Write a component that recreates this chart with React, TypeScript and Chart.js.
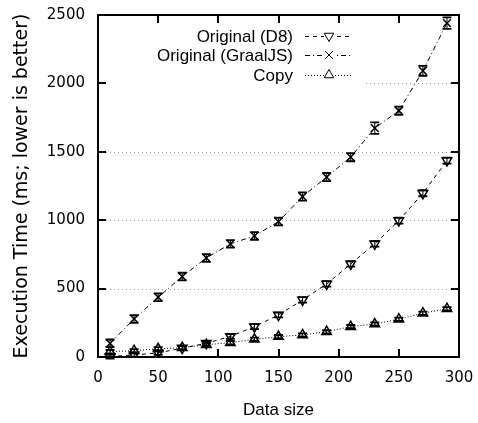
import React, { useEffect, useRef } from "react";
import { Chart, registerables } from "chart.js";

Chart.register(...registerables);

const dataSizes = [10, 30, 50, 70, 90, 110, 130, 150, 170, 190, 210, 230, 250, 270, 290];
const d8Times = [3, 15, 30, 65, 100, 150, 222, 307, 417, 534, 680, 827, 997, 1197, 1436];
const d8Errors = [14, 14, 14, 14, 16, 18, 18, 18, 20, 20, 20, 20, 22, 22, 22];
const graalTimes = [100, 278, 437, 588, 724, 827, 885, 990, 1173, 1315, 1461, 1673, 1800, 2092, 2441];
const graalErrors = [28, 28, 28, 28, 28, 28, 28, 28, 30, 30, 30, 42, 30, 36, 42];
const copyTimes = [39, 46, 60, 68, 90, 105, 129, 149, 161, 185, 222, 241, 276, 320, 353];
const copyErrors = [12, 12, 12, 12, 12, 12, 12, 12, 12, 12, 12, 12, 12, 12, 12];
const seriesLabels = ["Original (D8)", "Original (GraalJS)", "Copy"];
const xTickValues = [0, 50, 100, 150, 200, 250, 300];
const yTickValues = [0, 500, 1000, 1500, 2000, 2500];
const yGridValues = [500, 1000, 1500, 2000];

const dashes = [[4, 4], [5, 3, 1, 3], [1, 2]];
const pointStyles = ["triangle", "crossRot", "triangle"];
const rotations = [180, 0, 0];
const errorsList = [d8Errors, graalErrors, copyErrors];

function toPoints(vals: number[]) {
  return dataSizes.map((x, i) => ({ x, y: vals[i] }));
}

function drawMarker(ctx: CanvasRenderingContext2D, style: string, rot: number, x: number, y: number) {
  const r = 5.5;
  ctx.beginPath();
  if (style === "triangle") {
    let rad = (rot * Math.PI) / 180;
    ctx.moveTo(x + Math.sin(rad) * r, y - Math.cos(rad) * r);
    rad += (2 * Math.PI) / 3;
    ctx.lineTo(x + Math.sin(rad) * r, y - Math.cos(rad) * r);
    rad += (2 * Math.PI) / 3;
    ctx.lineTo(x + Math.sin(rad) * r, y - Math.cos(rad) * r);
    ctx.closePath();
  } else {
    const o = r * Math.SQRT1_2;
    ctx.moveTo(x - o, y - o);
    ctx.lineTo(x + o, y + o);
    ctx.moveTo(x - o, y + o);
    ctx.lineTo(x + o, y - o);
  }
  ctx.stroke();
}

const framePlugin = {
  id: "framePlugin",
  beforeDatasetsDraw(chart: any) {
    const { ctx, chartArea } = chart;
    const ys = chart.scales.y;
    ctx.save();
    ctx.strokeStyle = "#9a9a9a";
    ctx.lineWidth = 1;
    ctx.setLineDash([1, 3]);
    yGridValues.forEach((v) => {
      const py = Math.round(ys.getPixelForValue(v)) + 0.5;
      ctx.beginPath();
      ctx.moveTo(chartArea.left, py);
      ctx.lineTo(chartArea.right, py);
      ctx.stroke();
    });
    ctx.setLineDash([]);
    ctx.fillStyle = "#fff";
    ctx.fillRect(chartArea.left + 1, chartArea.top + 1, 265, 74);
    const rowY = [36, 55, 75];
    const textRight = 293;
    const lineStart = 305;
    const lineEnd = 353;
    ctx.font = "17px 'Liberation Sans', Arial, sans-serif";
    ctx.textAlign = "right";
    ctx.textBaseline = "middle";
    seriesLabels.forEach((lab, i) => {
      const y = rowY[i];
      ctx.fillStyle = "#000";
      ctx.fillText(lab, textRight, y + 1);
      ctx.strokeStyle = "#000";
      ctx.lineWidth = 1;
      ctx.setLineDash(dashes[i]);
      ctx.beginPath();
      ctx.moveTo(lineStart, y + 0.5);
      ctx.lineTo(lineEnd, y + 0.5);
      ctx.stroke();
      ctx.setLineDash([]);
      const mx = (lineStart + lineEnd) / 2;
      ctx.fillStyle = "#fff";
      ctx.fillRect(mx - 5, y - 5, 10, 10);
      ctx.strokeStyle = "#000";
      ctx.lineWidth = 1;
      drawMarker(ctx, pointStyles[i], rotations[i], mx, y);
    });
    ctx.restore();
  },
  afterDatasetsDraw(chart: any) {
    const { ctx, chartArea } = chart;
    const xs = chart.scales.x;
    const ys = chart.scales.y;
    ctx.save();
    ctx.strokeStyle = "#000";
    chart.data.datasets.forEach((ds: any, di: number) => {
      const meta = chart.getDatasetMeta(di);
      const errs = errorsList[di];
      meta.data.forEach((pt: any, i: number) => {
        const v = ds.data[i].y;
        const yTop = ys.getPixelForValue(v + errs[i]);
        const yBot = ys.getPixelForValue(v - errs[i]);
        ctx.lineWidth = 1;
        ctx.beginPath();
        ctx.moveTo(pt.x, yTop);
        ctx.lineTo(pt.x, yBot);
        ctx.stroke();
        ctx.lineWidth = 1.8;
        ctx.beginPath();
        ctx.moveTo(pt.x - 4.5, yTop);
        ctx.lineTo(pt.x + 4.5, yTop);
        ctx.moveTo(pt.x - 4.5, yBot);
        ctx.lineTo(pt.x + 4.5, yBot);
        ctx.stroke();
      });
    });
    ctx.lineWidth = 2;
    ctx.strokeStyle = "#000";
    ctx.strokeRect(chartArea.left, chartArea.top, chartArea.right - chartArea.left, chartArea.bottom - chartArea.top);
    const tl = 8;
    ctx.beginPath();
    xTickValues.forEach((v) => {
      const px = Math.round(xs.getPixelForValue(v));
      ctx.moveTo(px, chartArea.bottom);
      ctx.lineTo(px, chartArea.bottom - tl);
      ctx.moveTo(px, chartArea.top);
      ctx.lineTo(px, chartArea.top + tl);
    });
    yTickValues.forEach((v) => {
      const py = Math.round(ys.getPixelForValue(v));
      ctx.moveTo(chartArea.left, py);
      ctx.lineTo(chartArea.left + tl, py);
      ctx.moveTo(chartArea.right, py);
      ctx.lineTo(chartArea.right - tl, py);
    });
    ctx.stroke();
    ctx.restore();
  },
};

export default function App() {
  const canvasRef = useRef<HTMLCanvasElement | null>(null);

  useEffect(() => {
    if (!canvasRef.current) return;
    const seriesVals = [d8Times, graalTimes, copyTimes];
    const chart = new Chart(canvasRef.current, {
      type: "line",
      data: {
        datasets: seriesVals.map((vals, i) => ({
          label: seriesLabels[i],
          data: toPoints(vals),
          borderColor: "#000",
          borderWidth: 1,
          borderDash: dashes[i],
          backgroundColor: "rgba(0,0,0,0)",
          pointStyle: pointStyles[i] as any,
          pointRotation: rotations[i],
          pointRadius: 5.5,
          pointBorderWidth: 1.5,
          pointBorderColor: "#000",
          pointBackgroundColor: "rgba(0,0,0,0)",
          fill: false,
          tension: 0,
        })),
      },
      options: {
        animation: false,
        responsive: true,
        maintainAspectRatio: false,
        layout: { padding: { top: 15, right: 19, left: 0, bottom: 0 } },
        plugins: {
          legend: { display: false },
          tooltip: { enabled: false },
        },
        scales: {
          x: {
            type: "linear",
            min: 0,
            max: 300,
            afterFit: (s: any) => {
              s.height = 66;
              s.paddingLeft = 0;
              s.paddingRight = 0;
            },
            afterBuildTicks: (s: any) => {
              s.ticks = xTickValues.map((v) => ({ value: v }));
            },
            ticks: {
              padding: 12,
              color: "#000",
              font: { family: "'DejaVu Sans'", size: 15 },
              maxRotation: 0,
              callback: (v: any) => String(v),
            },
            grid: { display: false, drawTicks: false },
            border: { display: false },
            title: {
              display: true,
              text: "Data size",
              color: "#000",
              font: { family: "'Liberation Sans'", size: 17 },
              padding: { top: 0, bottom: 2 },
            },
          },
          y: {
            type: "linear",
            min: 0,
            max: 2500,
            afterFit: (s: any) => {
              s.width = 98;
              s.paddingTop = 0;
              s.paddingBottom = 0;
            },
            afterBuildTicks: (s: any) => {
              s.ticks = yTickValues.map((v) => ({ value: v }));
            },
            ticks: {
              padding: 13,
              color: "#000",
              font: { family: "'DejaVu Sans'", size: 15 },
              callback: (v: any) => String(v),
            },
            grid: { display: false, drawTicks: false },
            border: { display: false },
            title: {
              display: true,
              text: "Execution Time (ms; lower is better)",
              color: "#000",
              font: { family: "'DejaVu Sans'", size: 19 },
              padding: { top: 11, bottom: 0 },
            },
          },
        },
      },
      plugins: [framePlugin],
    });
    return () => chart.destroy();
  }, []);

  return (
    <div style={{ position: "fixed", left: 0, top: 0, width: 478, height: 423, background: "#fff" }}>
      <canvas ref={canvasRef} />
    </div>
  );
}
